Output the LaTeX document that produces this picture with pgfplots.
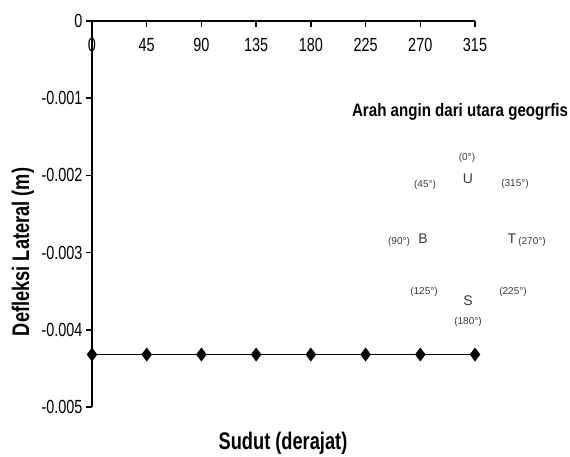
\documentclass[border=0pt]{standalone}
\usepackage{fontspec}
\setmainfont{Liberation Sans}
\newfontfamily\cond{Liberation Sans}[FakeStretch=0.76]
\newfontfamily\condb{Liberation Sans}[FakeStretch=0.84]
\usepackage{pgfplots}
\pgfplotsset{compat=1.18}
\definecolor{cgray}{HTML}{3A3A3A}
\begin{document}
\begin{tikzpicture}
\useasboundingbox (0pt,0pt) rectangle (570pt,456pt);
\begin{axis}[
  at={(92pt,435pt)}, anchor=north west,
  scale only axis, width=383pt, height=386pt,
  xmin=0, xmax=315, ymin=-0.005, ymax=0,
  axis x line=top, axis y line=left,
  axis line style={-, line width=1.8pt},
  scaled y ticks=false, scaled x ticks=false,
  xtick={0,45,90,135,180,225,270,315},
  xticklabels={0,45,90,135,180,225,270,315},
  ytick={-0.005,-0.004,-0.003,-0.002,-0.001,0},
  yticklabels={-0.005,-0.004,-0.003,-0.002,-0.001,0},
  xtick align=inside, ytick align=outside,
  major tick length=6pt,
  every tick/.style={black, line width=1.5pt},
  tick label style={font=\cond\fontsize{19}{19}\selectfont},
  xticklabel style={anchor=north, yshift=-14pt},
  clip=false,
]
\addplot[black, line width=1.2pt, mark=diamond*, mark size=6pt, mark options={solid, fill=black}]
 coordinates {(0,-0.00432) (45,-0.00432) (90,-0.00432) (135,-0.00432) (180,-0.00432) (225,-0.00432) (270,-0.00432) (315,-0.00432)};
\end{axis}
\node[font=\cond\bfseries\fontsize{24}{24}\selectfont] at (283pt,13pt) {Sudut (derajat)};
\node[rotate=90, font=\cond\bfseries\fontsize{24}{24}\selectfont] at (23pt,204pt) {Defleksi Lateral (m)};
\node[font=\condb\bfseries\fontsize{18}{18}\selectfont] at (460pt,344pt) {Arah angin dari utara geogrfis};
\begin{scope}[every node/.style={text=cgray, inner sep=0pt}]
\node[font=\fontsize{10}{10}\selectfont] at (467pt,298pt) {(0°)};
\node[font=\fontsize{14}{14}\selectfont] at (468pt,277pt) {U};
\node[font=\fontsize{10}{10}\selectfont] at (425pt,271pt) {(45°)};
\node[font=\fontsize{10}{10}\selectfont] at (515pt,272pt) {(315°)};
\node[font=\fontsize{10}{10}\selectfont] at (399pt,214pt) {(90°)};
\node[font=\fontsize{14}{14}\selectfont] at (423pt,217pt) {B};
\node[font=\fontsize{14}{14}\selectfont] at (512pt,217pt) {T};
\node[font=\fontsize{10}{10}\selectfont] at (532pt,214pt) {(270°)};
\node[font=\fontsize{10}{10}\selectfont] at (424pt,164pt) {(125°)};
\node[font=\fontsize{10}{10}\selectfont] at (513pt,164pt) {(225°)};
\node[font=\fontsize{14}{14}\selectfont] at (468pt,155pt) {S};
\node[font=\fontsize{10}{10}\selectfont] at (468pt,134pt) {(180°)};
\end{scope}
\end{tikzpicture}
\end{document}
